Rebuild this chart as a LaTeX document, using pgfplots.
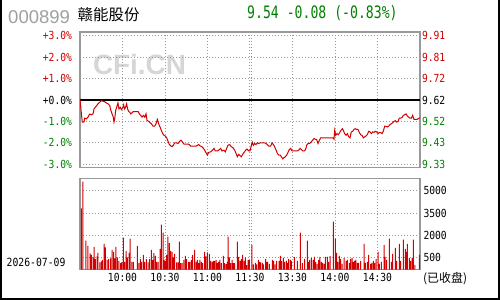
\documentclass[border=0pt]{standalone}
\usepackage{fontspec}
\setmainfont{DejaVu Sans Mono}
\newfontfamily\cjk{Noto Sans CJK SC}
\newfontfamily\arial{Liberation Sans}
\usepackage{graphicx}
\usepackage{pgfplots}
\pgfplotsset{compat=1.18}
\definecolor{upred}{RGB}{204,0,0}
\definecolor{dngreen}{RGB}{0,128,0}
\definecolor{framegray}{RGB}{153,153,153}
\definecolor{linered}{RGB}{210,0,0}
\newcommand\tl[1]{\scalebox{1}[1.15]{#1}}
\newcommand\up[1]{\textcolor{upred}{\tl{#1}}}
\newcommand\dn[1]{\textcolor{dngreen}{\tl{#1}}}
\newcommand\zr[1]{\textcolor{black}{\tl{#1}}}
\pgfplotsset{
  chartbase/.style={
    anchor=south west, scale only axis, width=340bp,
    xmin=0, xmax=240,
    major tick length=0pt,
    axis line style={framegray, line width=1.2bp},
    major grid style={framegray, dash pattern=on 1bp off 2bp, line width=0.9bp},
    tick label style={font=\fontsize{9.7}{10}\selectfont},
  }
}
\begin{document}
\begin{tikzpicture}
\path[use as bounding box, fill=white] (0,0) rectangle (500bp,300bp);
\draw[black, line width=2bp] (1bp,300bp) -- (1bp,1bp) -- (499bp,1bp) -- (499bp,300bp);
% watermark
\node[anchor=center, inner sep=0, text=black!16] at (139.5bp,235bp) {\arial\bfseries\fontsize{28}{30}\selectfont CFi.CN};
% titles
\node[anchor=base west, inner sep=0, text={rgb,255:red,160;green,160;blue,160}] at (8bp,276.7bp) {\arial\fontsize{18.6}{20}\selectfont 000899};
\node[anchor=base west, inner sep=0] at (77.5bp,279.5bp) {\cjk\fontsize{15.5}{16}\selectfont 赣能股份};
\node[anchor=base west, inner sep=0, text=dngreen] at (247bp,281bp) {\scalebox{1}[1.3]{\fontsize{13.2}{14}\selectfont 9.54 -0.08 (-0.83\%)}};
\node[anchor=west, inner sep=0] at (6.5bp,38bp) {\tl{\fontsize{9.8}{10}\selectfont 2026-07-09}};
\node[anchor=west, inner sep=0] at (423bp,21bp) {\cjk\fontsize{12}{12}\selectfont (已收盘)};

% main price axis
\begin{axis}[chartbase,
  at={(80bp,132.3bp)}, height=135.7bp,
  ymin=-3.16, ymax=3.17,
  xtick={30,60,90,119.3,120.7,150,180,210}, xticklabels={},
  ytick={-3,-2,-1,0,1,2,3},
  yticklabels={\dn{-3.0\%},\dn{-2.0\%},\dn{-1.0\%},\zr{+0.0\%},\up{+1.0\%},\up{+2.0\%},\up{+3.0\%}},
  yticklabel style={xshift=-4.5bp},
  grid=major,
]
\addplot[black, line width=1.2bp] coordinates {(0,0) (240,0)};
\addplot[linered, line width=1bp] coordinates {
(0,0) (1.6,-1.03) (2.8,-1.03) (3.3,-0.85) (4.5,-0.88) (5.7,-0.80) (6.8,-0.66) (8.0,-0.69) (9.2,-0.65) (9.9,-0.42)
(10.8,-0.34) (11.8,-0.26) (12.7,-0.18) (13.9,-0.11) (15.1,-0.03) (16.2,-0.06) (17.4,-0.08) (18.6,-0.14) (19.8,-0.18)
(21.0,-0.26) (21.6,-0.45) (22.6,-0.65) (23.5,-0.80) (24.0,-1.03) (24.5,-0.88) (25.2,-0.49) (25.9,-0.34) (26.8,-0.14)
(27.5,-0.42) (28.5,-0.34) (29.2,-0.45) (30.1,-0.38) (30.8,-0.23) (31.5,-0.42) (32.2,-0.34) (32.9,-0.18) (33.6,-0.42)
(34.4,-0.54) (35.1,-0.57) (35.8,-0.65) (36.7,-0.60) (37.6,-0.54) (39.8,-0.54) (41.0,-0.54) (41.9,-0.65) (42.8,-0.72)
(43.8,-0.80) (44.7,-0.72) (45.7,-0.80) (46.6,-0.65) (47.3,-0.95) (48.5,-1.00) (49.4,-1.06) (50.4,-1.11) (51.5,-1.22)
(52.7,-1.22) (53.7,-1.11) (54.6,-0.91) (55.5,-1.11) (56.5,-1.26) (57.4,-1.42) (58.4,-1.57) (59.3,-1.65) (60.2,-1.68)
(61.2,-1.77) (62.1,-1.92) (63.1,-2.08) (64.0,-2.14) (65.0,-2.18) (65.9,-2.11) (66.8,-2.00) (68.0,-2.00) (69.2,-2.03)
(70.4,-1.92) (71.3,-1.88) (72.2,-1.95) (73.4,-2.06) (76.7,-2.06) (78.1,-2.15) (82.1,-2.15) (83.8,-2.08) (84.7,-2.14)
(86.1,-2.18) (87.1,-2.26) (88.0,-2.34) (89.2,-2.49) (89.9,-2.57) (90.8,-2.45) (92.2,-2.42) (93.6,-2.34) (94.6,-2.26)
(95.5,-2.38) (96.9,-2.38) (97.9,-2.34) (99.3,-2.26) (100.2,-2.38) (101.6,-2.34) (102.6,-2.42) (103.5,-2.26) (104.5,-2.11)
(105.6,-2.08) (106.8,-2.18) (108.0,-2.23) (109.2,-2.34) (110.1,-2.49) (111.1,-2.65) (112.0,-2.54) (113.0,-2.60)
(113.9,-2.65) (114.8,-2.54) (115.8,-2.45) (117.0,-2.34) (117.9,-2.29) (119.1,-2.38) (120.0,-2.38)
(121.0,-2.11) (121.7,-1.98) (122.4,-2.11) (123.3,-2.03) (124.2,-2.08) (125.2,-2.00) (126.1,-2.03) (127.1,-2.00)
(130.4,-2.00) (131.3,-2.03) (132.2,-2.08) (133.2,-2.15) (134.6,-2.15) (135.5,-2.00) (136.5,-2.08) (137.4,-2.18)
(138.4,-2.34) (139.3,-2.49) (140.2,-2.57) (141.4,-2.57) (142.1,-2.65) (143.1,-2.75) (144.0,-2.69) (145.0,-2.65)
(145.9,-2.57) (146.8,-2.45) (147.8,-2.31) (148.7,-2.26) (149.7,-2.38) (153.4,-2.38) (154.4,-2.34) (155.3,-2.26)
(156.2,-2.31) (157.2,-2.38) (158.6,-2.38) (159.5,-2.26) (160.0,-2.11) (161.0,-2.03) (162.1,-2.03) (163.3,-1.95)
(164.2,-1.88) (165.2,-1.80) (166.1,-1.83) (167.1,-1.85) (168.0,-2.03) (169.0,-1.88) (169.9,-1.77) (178.6,-1.77)
(179.3,-1.83) (179.8,-1.42) (180.5,-1.65) (181.4,-1.57) (182.4,-1.62) (183.3,-1.52) (184.2,-1.42) (185.2,-1.34)
(185.9,-1.42) (186.8,-1.57) (187.8,-1.65) (188.7,-1.57) (189.7,-1.72) (190.6,-1.77) (191.5,-1.49) (192.5,-1.46)
(193.4,-1.37) (194.4,-1.34) (195.3,-1.38) (196.2,-1.37) (197.2,-1.52) (198.1,-1.62) (199.1,-1.65) (200.0,-1.77)
(201.0,-1.72) (201.9,-1.68) (202.8,-1.62) (203.8,-1.46) (204.7,-1.49) (205.7,-1.57) (206.6,-1.49) (207.5,-1.52)
(208.5,-1.46) (209.4,-1.49) (210.4,-1.57) (211.3,-1.52) (212.3,-1.52) (213.2,-1.57) (214.1,-1.46) (215.1,-1.22)
(216.0,-1.23) (217.0,-1.26) (217.9,-1.22) (218.8,-1.15) (219.8,-1.11) (220.7,-1.06) (221.7,-1.00) (222.6,-0.97)
(223.5,-1.03) (224.5,-1.00) (225.4,-0.85) (226.4,-0.85) (227.3,-0.82) (228.2,-0.72) (229.2,-0.69) (230.1,-0.65)
(231.1,-0.75) (232.0,-0.80) (233.0,-0.85) (233.9,-0.85) (234.8,-0.72) (235.8,-0.91) (236.7,-0.91) (237.7,-0.91)
(238.6,-0.88) (240.0,-0.83)
};
\end{axis}

% right-hand price labels
\begin{axis}[chartbase,
  at={(80bp,132.3bp)}, height=135.7bp,
  ymin=-3.16, ymax=3.17,
  axis x line=none, axis y line*=right,
  y axis line style={draw=none},
  ytick={-3,-2,-1,0,1,2,3},
  yticklabels={\dn{9.33},\dn{9.43},\dn{9.52},\zr{9.62},\up{9.72},\up{9.81},\up{9.91}},
  yticklabel style={xshift=-1.5bp},
]
\addplot[draw=none] coordinates {(0,0)};
\end{axis}

% volume axis
\begin{axis}[chartbase,
  at={(80bp,30.5bp)}, height=91.2bp,
  ymin=0, ymax=6000,
  xtick={30,60,90,119.3,120.7,150,180,210},
  xticklabels={\tl{10:00},\tl{10:30},\tl{11:00},,,\tl{13:30},\tl{14:00},\tl{14:30}},
  extra x ticks={120}, extra x tick labels={\tl{11:30}},
  extra x tick style={grid=none},
  ytick={814,2266,3718,5170},
  yticklabels={\tl{500},\tl{2000},\tl{3500},\tl{5000}},
  yticklabel pos=right,
  grid=major,
]
\addplot[ybar, bar width=1bp, bar shift=0pt, fill=linered, draw=none] coordinates {
(0.9,4026) (2.1,5786) (4.2,1892) (5.6,1562) (7.1,1056) (8.0,968) (9.2,792) (9.9,1496) (10.8,682) (12.0,858)
(12.7,1100) (14.1,462) (15.1,528) (15.8,638) (17.0,1694) (17.9,1452) (19.1,638) (20.2,682) (21.7,726) (22.6,1298)
(23.8,1166) (24.7,726) (25.4,1496) (26.4,792) (27.5,572) (28.7,418) (29.6,506) (30.6,2090) (31.5,506) (32.5,1232)
(33.4,792) (34.6,1100) (35.3,2024) (36.7,506) (37.6,506) (40.5,1562) (41.6,418) (42.6,682) (43.5,506) (44.7,968)
(45.7,506) (46.8,682) (48.0,462) (49.2,682) (50.4,1298) (51.3,638) (52.2,1078) (53.2,902) (54.1,506) (55.1,506)
(56.5,1364) (57.4,2948) (58.6,2420) (59.3,638) (60.2,572) (61.2,968) (62.1,2156) (63.1,1738) (64.0,1232) (65.0,1166)
(65.9,792) (66.8,1034) (68.2,462) (69.2,462) (70.1,1826) (71.1,418) (72.0,418) (73.4,638) (74.4,902) (75.3,682)
(76.7,506) (77.6,506) (78.6,638) (79.5,968) (80.9,1298) (81.9,506) (82.8,638) (83.8,418) (84.7,638) (85.7,506)
(86.6,418) (88.0,1166) (88.9,858) (89.9,1122) (91.3,1034) (92.2,572) (93.2,506) (94.1,572) (95.1,572) (96.0,638)
(97.0,418) (97.9,506) (98.8,638) (99.8,418) (101.2,902) (102.1,418) (103.1,352) (104.0,506) (104.5,2156) (105.4,792)
(106.4,418) (107.3,638) (108.2,418) (109.2,418) (111.1,1826) (112.0,836) (113.0,572) (113.9,682) (114.8,968) (115.8,572)
(116.7,792) (117.7,286) (118.6,638) (119.5,638)
(121.4,1628) (122.4,330) (123.8,440) (124.7,330) (125.9,638) (126.8,506) (127.5,462) (128.7,440) (129.4,330) (131.1,704)
(131.8,506) (132.5,506) (133.7,374) (135.8,638) (136.7,572) (137.7,330) (138.8,572) (140.5,572) (141.4,902) (142.4,572)
(143.5,770) (144.5,506) (145.7,572) (146.6,440) (147.3,704) (148.5,638) (149.2,572) (151.3,836) (153.4,572) (155.5,2420)
(157.0,440) (158.6,704) (160.5,1892) (161.2,506) (162.1,638) (163.3,770) (164.5,638) (165.4,836) (166.4,506) (167.3,374)
(168.5,638) (169.4,836) (170.4,506) (171.3,440) (172.3,374) (173.2,836) (174.6,836) (175.5,506) (176.5,880) (178.8,3146)
(180.2,2024) (181.2,1100) (182.1,506) (183.1,902) (184.0,704) (185.0,374) (186.4,770) (187.8,572) (188.7,638) (190.1,440)
(191.1,704) (192.0,770) (193.0,506) (193.9,572) (194.8,638) (195.8,440) (196.7,440) (198.1,572) (200.5,1694) (201.4,440)
(202.8,506) (203.8,968) (205.2,374) (206.1,440) (207.1,572) (208.0,440) (209.0,704) (210.4,1166) (211.3,374) (212.7,506)
(214.6,1628) (215.3,836) (216.5,638) (218.4,2024) (219.8,506) (220.7,1034) (222.6,1430) (223.5,572) (225.4,1694) (226.4,572)
(228.3,1958) (229.7,1364) (230.6,1166) (231.1,1694) (232.5,770) (233.4,572) (234.4,770) (235.3,1958) (236.3,308) (239.5,968)
};
\end{axis}
\end{tikzpicture}
\end{document}
